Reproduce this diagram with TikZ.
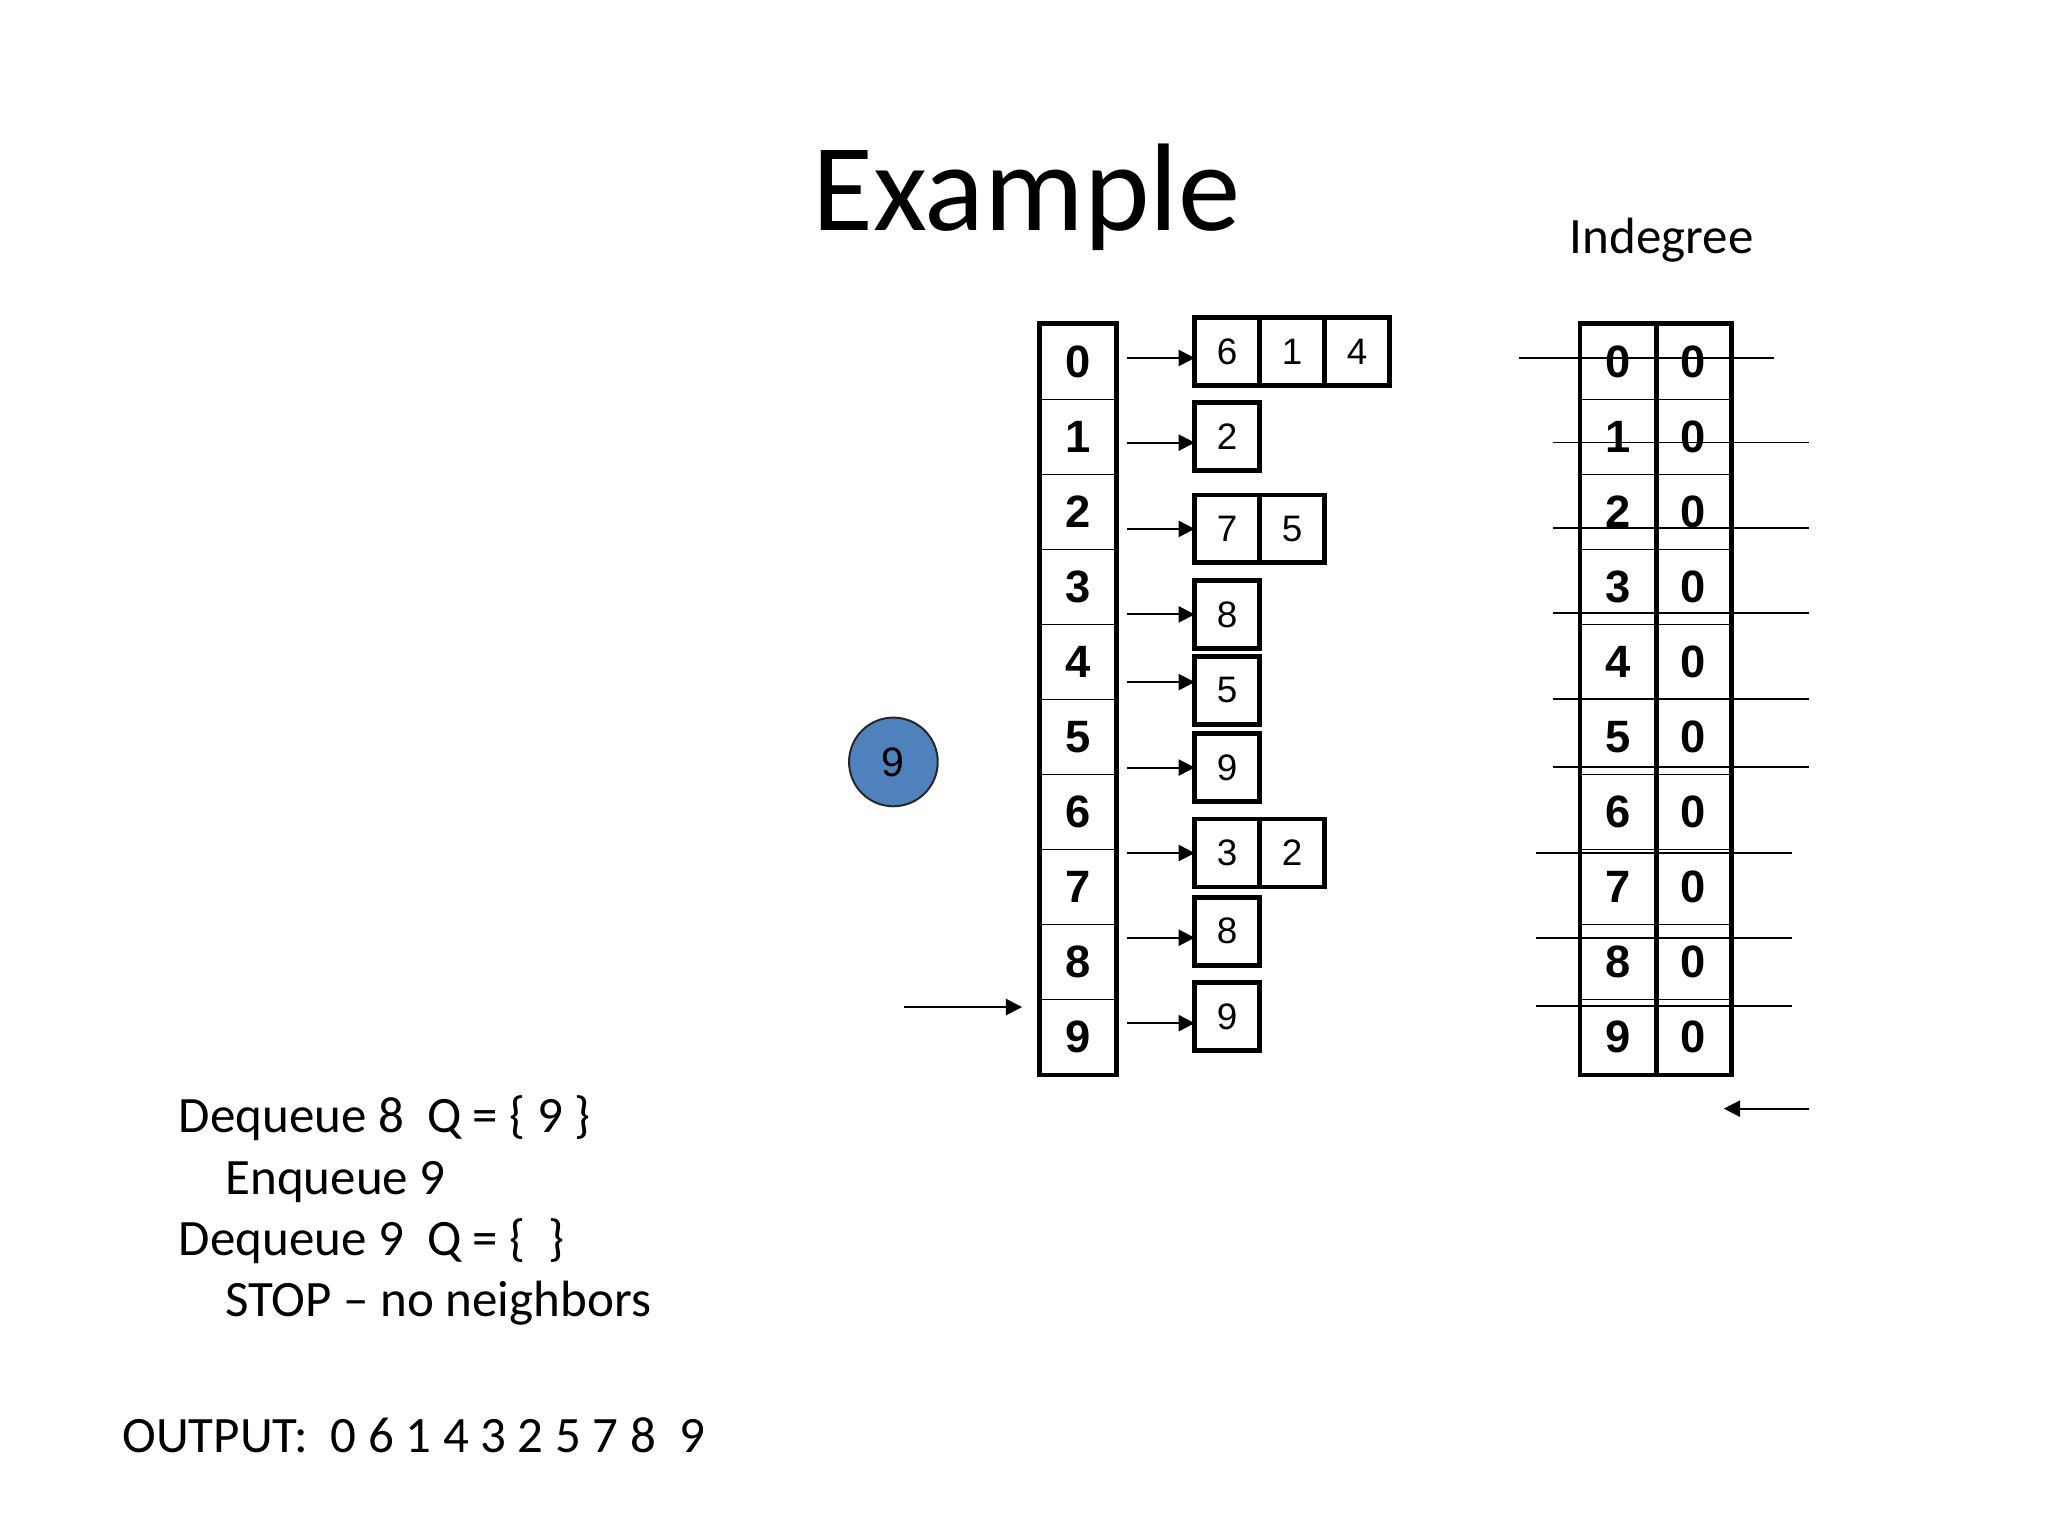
\documentclass[tikz,border=0pt]{standalone}
\usepackage{fontspec}
\setmainfont{Carlito}
\newfontfamily\arial{Liberation Sans}
\usetikzlibrary{arrows.meta,positioning}
\definecolor{qblue}{RGB}{79,129,189}
\tikzset{
  slot/.style={draw,line width=0.5pt,minimum width=0.93cm,minimum height=0.93cm,inner sep=0pt,
    font=\arial\bfseries\fontsize{16}{18}\selectfont},
  adj/.style={draw,line width=1.7pt,minimum width=0.806cm,minimum height=0.843cm,inner sep=0pt,
    outer sep=0pt,font=\arial\fontsize{13}{15}\selectfont},
  rim/.style={line width=1.7pt},
  ptr/.style={line width=0.75pt,-{Triangle[length=2mm,width=2mm]}},
  cut/.style={line width=0.6pt},
  qnode/.style={circle,draw=black!85,line width=0.7pt,fill=qblue,minimum size=1.1cm,inner sep=0pt,
    font=\arial\fontsize{14.5}{16}\selectfont},
  txt/.style={anchor=base west,inner sep=0pt,font=\fontsize{18}{22}\selectfont},
}

\begin{document}
\begin{tikzpicture}
  \useasboundingbox (0,0) rectangle (25.4,19.05);
  \node[anchor=base,font=\fontsize{44}{53}\selectfont] (title) at (12.73,16.185) {Example};
  \node[anchor=base,font=\fontsize{18}{22}\selectfont] (ideg) at (20.61,15.91) {Indegree};
  % vertex array and indegree table
  \foreach \i in {0,...,9} {
    \node[slot] (a\i) at (13.37,14.56-0.93*\i) {\i};
    \node[slot] (v\i) at (20.07,14.56-0.93*\i) {\i};
    \node[slot] (d\i) at (21.00,14.56-0.93*\i) {0};
  }
  \draw[rim] (a0.north west) rectangle (a9.south east);
  \draw[rim] (v0.north west) rectangle (d9.south east);
  \draw[rim] (v0.north east) -- (v9.south east);
  % adjacency lists
  \node[adj] (n0) at (15.22,14.69) {6}; \node[adj,right=0pt of n0] (n0b) {1}; \node[adj,right=0pt of n0b] (n0c) {4};
  \node[adj] (n1) at (15.22,13.64) {2};
  \node[adj] (n2) at (15.22,12.49) {7}; \node[adj,right=0pt of n2] (n2b) {5};
  \node[adj] (n3) at (15.22,11.43) {8};
  \node[adj] (n4) at (15.22,10.49) {5};
  \node[adj] (n5) at (15.22,9.53) {9};
  \node[adj] (n6) at (15.22,8.47) {3}; \node[adj,right=0pt of n6] (n6b) {2};
  \node[adj] (n7) at (15.22,7.50) {8};
  \node[adj] (n8) at (15.22,6.44) {9};
  \foreach \i/\y in {0/14.61,1/13.56,2/12.49,3/11.43,4/10.59,5/9.53,6/8.47,7/7.42,8/6.36} {
    \coordinate (p\i) at (13.98,\y);
    \draw[ptr] (p\i) -- (p\i -| n\i.west);
  }
  % struck rows
  \foreach \y/\xa/\xb in {14.61/18.84/22.00,13.56/19.26/22.44,12.50/19.26/22.44,11.45/19.26/22.44,
    10.38/19.26/22.44,9.54/19.26/22.44,8.47/19.05/22.22,7.42/19.05/22.22,6.57/19.05/22.22}
    \draw[cut] (\xa,\y) -- (\xb,\y);
  % queue
  \node[qnode] (q9) at (11.08,9.60) {9};
  \coordinate (inq) at (11.21,6.56);
  \draw[ptr,shorten >=0.22cm] (inq) -- (inq -| a9.west);
  \coordinate (outq) at (22.44,5.30); \coordinate (outt) at (21.38,5.30);
  \draw[ptr] (outq) -- (outt);
  % steps
  \node[txt] (s1) at (2.21,5.00) {Dequeue 8\ \ Q = \{ 9 \}};
  \node[txt] (s2) at (2.79,4.23) {Enqueue 9};
  \node[txt] (s3) at (2.21,3.48) {Dequeue 9\ \ Q = \{\ \ \}};
  \node[txt] (s4) at (2.79,2.72) {STOP – no neighbors};
  \node[txt] (out) at (1.51,1.04) {OUTPUT:\ \ 0 6 1 4 3 2 5 7 8\ \ 9};
\end{tikzpicture}
\end{document}
